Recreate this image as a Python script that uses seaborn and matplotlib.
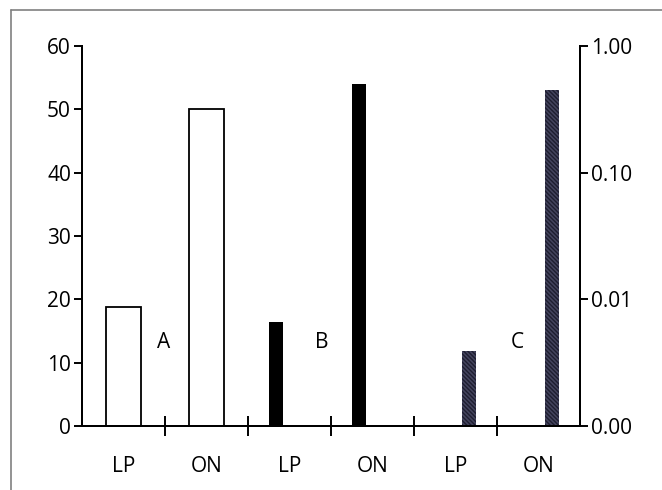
import numpy as np
import pandas as pd
import seaborn as sns
import matplotlib.pyplot as plt
from matplotlib.lines import Line2D

# --- data ---
categories = ["A-LP", "A-ON", "B-LP", "B-ON", "C-LP", "C-ON"]
tick_labels = ["LP", "ON", "LP", "ON", "LP", "ON"]

# series A on the left (linear) axis
a_cats = ["A-LP", "A-ON"]
a_values = [18.7, 50.0]

# series B and C on the right (log) axis
b_cats = ["B-LP", "B-ON"]
b_values = [0.0066, 0.50]
c_cats = ["C-LP", "C-ON"]
c_values = [0.0039, 0.45]

group_letters = ["A", "B", "C"]

sns.set_style("white")
plt.rcParams['font.family'] = ['Open Sans', 'DejaVu Sans']
plt.rcParams['text.color'] = 'black'
plt.rcParams['xtick.color'] = 'black'
plt.rcParams['ytick.color'] = 'black'
FS = 15

fig = plt.figure(figsize=(6.62, 4.90), dpi=100)
ax = fig.add_axes([0.124, 0.131, 0.752, 0.775])

df_a = pd.DataFrame({"cat": a_cats, "value": a_values})
sns.barplot(data=df_a, x="cat", y="value", order=categories, ax=ax,
            width=0.42, color="white", edgecolor="black", linewidth=1.3,
            saturation=1)

ax2 = ax.twinx()
df_bc = pd.DataFrame({
    "cat": b_cats + c_cats,
    "value": b_values + c_values,
    "series": ["B"] * len(b_cats) + ["C"] * len(c_cats),
})
sns.barplot(data=df_bc, x="cat", y="value", hue="series", order=categories,
            hue_order=["B", "C"], palette={"B": "black", "C": "#44445e"},
            width=0.65, gap=0.47, dodge=True, ax=ax2, legend=False,
            saturation=1, linewidth=0)
# hatch the C bars
for p in ax2.patches:
    fc = p.get_facecolor()
    if fc[0] > 0.1:
        p.set_hatch("\\\\\\\\\\\\\\\\")
        p.set_edgecolor("#1e1e30")
        p.set_linewidth(0)
ax2.set_yscale("log")
ax2.set_ylim(0.001, 1)
ax2.set_yticks([0.001, 0.01, 0.1, 1])
ax2.set_yticklabels(["0.00", "0.01", "0.10", "1.00"])
ax2.yaxis.set_minor_locator(plt.NullLocator())

ax.set_ylim(0, 60)
ax.set_yticks(range(0, 61, 10))
ax.set_xlim(-0.5, 5.5)
ax.set_xticks(range(6))
ax.set_xticklabels(tick_labels)
ax.set_xticks(np.arange(0.5, 5, 1), minor=True)
ax.set_xlabel("")
ax.set_ylabel("")
ax2.set_ylabel("")

for a in (ax, ax2):
    for s in a.spines.values():
        s.set_linewidth(1.4)
        s.set_color("black")
    a.spines["top"].set_visible(False)

ax.tick_params(axis="y", direction="out", length=6, width=1.4,
               labelsize=FS, pad=2, left=True, colors="black")
ax2.tick_params(axis="y", direction="out", length=6, width=1.4,
                labelsize=FS, pad=2, right=True, colors="black")
ax.tick_params(axis="x", which="major", length=0, labelsize=FS, pad=22,
               colors="black")
ax.tick_params(axis="x", which="minor", direction="inout", length=14,
               width=1.4, bottom=True, colors="black")

# group letters
letter_x = [0.48, 2.39, 4.75]
for lx, lt in zip(letter_x, group_letters):
    ax.text(lx, 13.1, lt, fontsize=FS, ha="center", va="center",
            color="black")

ax.set_zorder(ax2.get_zorder() + 1)
ax.patch.set_visible(False)

# gray frame at top and left
fig.add_artist(Line2D([11 / 662, 1.0], [1 - 10 / 490, 1 - 10 / 490],
                      color="#808080", lw=1.2, transform=fig.transFigure))
fig.add_artist(Line2D([11 / 662, 11 / 662], [0.0, 1 - 10 / 490],
                      color="#808080", lw=1.2, transform=fig.transFigure))

fig.savefig("out.png", dpi=100)
